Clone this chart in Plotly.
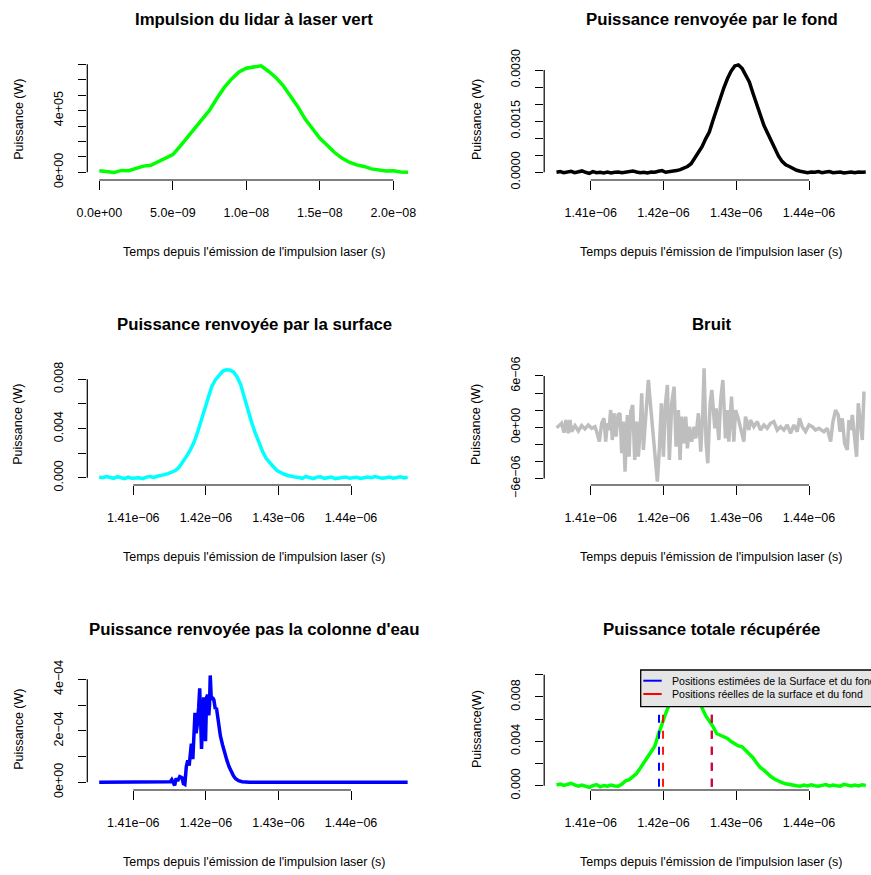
import plotly.graph_objects as go

W, H = 871, 875

# ---------------- données ----------------
# Panneau 1 : impulsion du lidar (temps en ns, puissance en 1e5 W)
impulsion_t_ns = [0.0, 0.5, 1.0, 1.5, 2.0, 2.5, 3.0, 3.5, 4.0, 4.5, 5.0, 5.5, 6.0, 6.5,
                  7.0, 7.5, 8.0, 8.5, 9.0, 9.5, 10.0, 10.5, 11.0, 11.5, 12.0, 12.5, 13.0,
                  13.5, 14.0, 14.5, 15.0, 15.5, 16.0, 16.5, 17.0, 17.5, 18.0, 18.5, 19.0,
                  19.5, 20.0, 20.5, 21.0]
impulsion_p_1e5W = [0.10, 0.05, -0.02, 0.12, 0.10, 0.25, 0.40, 0.45, 0.68, 0.90, 1.15, 1.70,
                    2.28, 2.82, 3.40, 4.03, 4.80, 5.50, 6.05, 6.50, 6.75, 6.85, 6.90, 6.55,
                    6.15, 5.62, 4.98, 4.25, 3.45, 2.78, 2.20, 1.75, 1.28, 0.92, 0.65, 0.48,
                    0.38, 0.22, 0.15, 0.08, 0.10, 0.02, 0.00]

# Grille de temps commune (ns) pour le fond, la surface et le total
temps_ns = [1405.3, 1405.8, 1406.3, 1406.8, 1407.3, 1407.8, 1408.3, 1408.8, 1409.3, 1409.8,
            1410.3, 1410.8, 1411.3, 1411.8, 1412.3, 1412.8, 1413.3, 1413.8, 1414.3, 1414.8,
            1415.3, 1415.8, 1416.3, 1416.8, 1417.3, 1417.8, 1418.3, 1418.8, 1419.3, 1419.8,
            1420.3, 1420.8, 1421.3, 1421.8, 1422.3, 1422.8, 1423.3, 1423.8, 1424.3, 1424.8,
            1425.3, 1425.8, 1426.3, 1426.8, 1427.3, 1427.8, 1428.3, 1428.8, 1429.3, 1429.8,
            1430.3, 1430.8, 1431.3, 1431.8, 1432.3, 1432.8, 1433.3, 1433.8, 1434.3, 1434.8,
            1435.3, 1435.8, 1436.3, 1436.8, 1437.3, 1437.8, 1438.3, 1438.8, 1439.3, 1439.8,
            1440.3, 1440.8, 1441.3, 1441.8, 1442.3, 1442.8, 1443.3, 1443.8, 1444.3, 1444.8,
            1445.3, 1445.8, 1446.3, 1446.8, 1447.3, 1447.8]

# Panneau 2 : puissance renvoyée par le fond (mW)
fond_mW = [0.00, 0.02, -0.01, 0.01, 0.03, -0.01, 0.02, 0.04, 0.00, -0.03,
           0.02, -0.01, 0.00, -0.02, 0.01, -0.02, 0.00, 0.01, -0.01, 0.00,
           0.02, 0.04, 0.01, -0.01, 0.00, -0.02, 0.01, 0.00, 0.03, 0.05,
           0.00, 0.01, 0.03, 0.05,
           0.08, 0.13, 0.17, 0.25, 0.42, 0.58, 0.75, 0.98, 1.18, 1.52,
           1.85, 2.20, 2.48, 2.75, 2.97, 3.12, 3.15, 3.05, 2.85, 2.65,
           2.32, 2.00, 1.66, 1.38, 1.15, 0.92, 0.68, 0.48, 0.32, 0.22,
           0.17, 0.10, 0.06, 0.03,
           0.02, -0.01, 0.01, 0.00, 0.02, -0.01, 0.01, 0.02, -0.01, 0.00,
           0.01, -0.02, 0.00, 0.01, -0.01, 0.01, 0.00, 0.01]

# Panneau 3 : puissance renvoyée par la surface (mW)
surface_mW = [0.05, 0.00, 0.10, 0.05, -0.05, 0.08, 0.00, -0.08, 0.05, -0.05,
              -0.02, 0.00, -0.08, 0.05, 0.10, 0.02, 0.12,
              0.15, 0.25, 0.33, 0.45, 0.58, 0.85, 1.25, 1.71, 2.20, 2.79,
              3.60, 4.55, 5.70, 6.60, 7.40, 7.95, 8.35, 8.65, 8.78, 8.75,
              8.60, 8.20, 7.55, 6.50, 5.45, 4.50, 3.65, 2.85, 2.15, 1.57,
              1.20, 0.89, 0.58, 0.40, 0.28, 0.18, 0.10, 0.05,
              0.02, -0.05, 0.10, 0.00, -0.08, 0.05, 0.08, -0.05, 0.00, 0.05,
              -0.08, -0.03, 0.02, 0.06, -0.05, 0.00, 0.03, -0.06, -0.02, 0.05,
              0.00, 0.10, 0.03, -0.05, 0.00, 0.05, -0.04, 0.02, 0.08, -0.02, 0.03]

# Panneau 6 : puissance totale récupérée (mW)
total_mW = [0.06, 0.15, 0.02, 0.10, 0.22, 0.08, -0.05, 0.05, -0.08, -0.15,
            0.00, 0.10, -0.10, 0.02, -0.05, 0.05, -0.02, -0.05,
            0.15, 0.45, 0.55, 0.80, 1.10, 1.57, 2.05, 2.55, 3.05, 3.55,
            4.60, 5.60, 6.50, 7.30, 8.20, 8.90, 9.50, 9.90, 10.05, 9.90,
            9.40, 8.30, 7.00, 6.30, 5.85, 5.35, 4.70, 4.55, 4.40, 4.25,
            3.98, 3.80, 3.58, 3.50, 3.20, 2.85, 2.52, 2.05, 1.65, 1.40,
            1.05, 0.80, 0.58, 0.40, 0.27, 0.18, 0.10, 0.03,
            0.00, -0.05, 0.05, -0.02, 0.08, 0.00, -0.05, 0.03, 0.10, -0.02,
            0.05, 0.00, -0.04, 0.12, 0.02, -0.03, 0.05, -0.02, 0.08, 0.02]

# Panneau 4 : bruit (temps en ns, puissance en 1e-6 W)
bruit_t_ns = [1405.32, 1406.00, 1406.33, 1406.60, 1406.92, 1407.15, 1407.38, 1407.84, 1408.30,
              1408.76, 1409.21, 1409.67, 1410.13, 1410.59, 1410.82, 1411.19, 1411.51, 1411.83,
              1412.06, 1412.29, 1412.52, 1412.74, 1412.97, 1413.20, 1413.48, 1413.75, 1414.03,
              1414.26, 1414.49, 1414.72, 1415.04, 1415.27, 1415.50, 1415.77, 1416.05, 1416.32,
              1416.55, 1416.78, 1417.01, 1417.24, 1417.60, 1417.93, 1418.16, 1418.48, 1418.71,
              1418.89, 1419.16, 1419.44, 1419.71, 1419.99, 1420.26, 1420.54, 1420.81, 1421.14,
              1421.46, 1421.73, 1422.05, 1422.28, 1422.51, 1422.83, 1423.06, 1423.29, 1423.57,
              1423.89, 1424.21, 1424.44, 1424.80, 1425.12, 1425.40, 1425.58, 1425.86, 1426.09,
              1426.41, 1426.64,
              1427.06, 1427.24, 1427.61, 1427.84, 1428.16, 1428.52, 1428.75, 1428.98, 1429.35,
              1429.67, 1429.90, 1430.27, 1430.72, 1431.05, 1431.27, 1431.73, 1431.96, 1432.42,
              1432.88, 1433.34, 1433.80, 1434.26, 1434.71, 1435.17, 1435.63, 1436.09, 1436.55,
              1437.01, 1437.46, 1437.92, 1438.38, 1438.70, 1439.07, 1439.53, 1439.99, 1440.45,
              1440.90, 1441.36, 1442.05, 1442.51, 1442.97, 1443.29, 1443.65, 1444.02, 1444.25,
              1444.57, 1444.89, 1445.26, 1445.49, 1445.72, 1445.95, 1446.31, 1446.54, 1446.77,
              1447.09, 1447.32, 1447.55, 1447.78]
bruit_uW = [-0.05, 0.47, -0.63, 0.85, -0.70, 0.85, -0.51, 0.19, -0.43,
            0.19, -0.20, 0.27, -0.12, 0.07, -0.51, -1.68, 0.47, 1.05,
            -1.68, 0.47, -0.32, 2.02, -1.49, 1.64, -1.10, 1.44, 1.64,
            -3.04, 0.66, -5.19, 1.44, -3.44, 1.82, 2.61, -3.82, 0.66,
            -3.44, -0.51, 3.98, -2.65, 1.64, 5.53, 3.19, 0.07, -1.49,
            -3.82, -6.36, -2.46, 2.81, -3.44, 2.61, 4.95, -3.82, 2.81,
            4.75, -2.27, 2.02, -3.82, 1.24, -1.88, 1.24, -2.46, 0.07,
            -1.68, 0.07, -1.30, 1.64, -2.85, 1.64, 6.90, -1.87, -4.21,
            2.81, 4.36,
            -0.12, 2.22, -1.49, 3.00, 5.53, -1.29, 2.02, -1.68, 3.58,
            -1.68, 2.02, 1.05, -0.32, -1.68, 1.24, -0.32, 0.85, 0.07,
            0.66, -0.32, 0.27, -0.12, 0.47, 0.66, -0.32, 0.07, -0.32,
            0.27, -0.70, 0.27, -0.51, 1.05, 0.07, -0.51, 0.27, 0.07,
            -0.32, -0.12, -0.51, -0.12, -1.68, 0.66, 2.02, 1.44, -0.51,
            1.05, -1.87, -2.65, 0.85, -0.32, 1.44, -1.10, -3.44, 2.81,
            0.07, -1.49, 3.98, 3.98]

# Panneau 5 : colonne d'eau (temps en ns, puissance en 1e-4 W)
colonne_t_ns = [1405.3, 1410.0, 1414.8, 1415.1, 1415.3, 1415.5, 1415.7, 1415.9, 1416.1, 1416.4,
                1416.7, 1416.9, 1417.1, 1417.3, 1417.5, 1417.7, 1417.8, 1418.0, 1418.2, 1418.35,
                1418.5, 1418.65, 1418.8, 1419.0, 1419.15, 1419.3, 1419.4, 1419.55, 1419.7,
                1419.85, 1419.95, 1420.1, 1420.25, 1420.4, 1420.5, 1420.6, 1420.75, 1420.9,
                1421.1, 1421.3, 1421.45, 1421.6, 1421.8, 1422.0, 1422.3, 1422.6, 1422.9,
                1423.2, 1423.5, 1423.8, 1424.1, 1424.5, 1425.0, 1426.0, 1447.8]
colonne_1e4W = [0.0, 0.0, 0.0, 0.02, 0.10, -0.05, -0.12, 0.15, 0.05, 0.22,
                0.18, -0.05, -0.08, 0.60, 0.85, 0.65, 0.95, 1.50, 0.90, 1.60,
                2.70, 1.90, 2.20, 2.90, 3.65, 2.20, 1.30, 2.40, 3.30,
                1.90, 1.60, 3.30, 3.40, 2.60, 3.00, 4.15, 3.20, 3.30,
                3.20, 2.85, 2.90, 2.60, 2.10, 1.80, 1.45, 1.10, 0.85,
                0.60, 0.40, 0.25, 0.14, 0.06, 0.02, 0.0, 0.0]

# Positions (ns) des surfaces / fonds et hauteur des segments (W)
pos_estimees_ns = [1419.39, 1426.64]
pos_reelles_ns = [1419.94, 1426.64]
haut_segments_W = 0.0064

titres = ["Impulsion du lidar à laser vert", "Puissance renvoyée par le fond",
          "Puissance renvoyée par la surface", "Bruit",
          "Puissance renvoyée pas la colonne d'eau", "Puissance totale récupérée"]
titre_x = "Temps depuis l'émission de l'impulsion laser (s)"
titres_y = ["Puissance (W)"] * 5 + ["Puissance(W)"]
legende = ["Positions estimées de la Surface et du fond",
           "Positions réelles de la surface et du fond"]

M = "\u2212"
x1_ticks = [0, 5e-9, 1e-8, 1.5e-8, 2e-8]
x1_text = ["0.0e+00", "5.0e" + M + "09", "1.0e" + M + "08", "1.5e" + M + "08", "2.0e" + M + "08"]
t_ticks = [1.41e-6, 1.42e-6, 1.43e-6, 1.44e-6]
t_text = ["1.41e" + M + "06", "1.42e" + M + "06", "1.43e" + M + "06", "1.44e" + M + "06"]
y_ticks = [
    [0, 1e5, 2e5, 3e5, 4e5, 5e5, 6e5, 7e5],
    [0, 0.0005, 0.001, 0.0015, 0.002, 0.0025, 0.003],
    [0, 0.002, 0.004, 0.006, 0.008],
    [-6e-6, -4e-6, -2e-6, 0, 2e-6, 4e-6, 6e-6],
    [0, 1e-4, 2e-4, 3e-4, 4e-4],
    [0, 0.002, 0.004, 0.006, 0.008, 0.010],
]
y_text = [
    ["0e+00", "", "", "", "4e+05", "", "", ""],
    ["0.0000", "", "", "0.0015", "", "", "0.0030"],
    ["0.000", "", "0.004", "", "0.008"],
    [M + "6e" + M + "06", "", "", "0e+00", "", "", "6e" + M + "06"],
    ["0e+00", "", "2e" + M + "04", "", "4e" + M + "04"],
    ["0.000", "", "0.004", "", "0.008", ""],
]

# ---------------- mise en page (pixels -> papier) ----------------
def px(x):
    return x / W


def py(y):
    return 1 - y / H


col_left = [87.3, 420.7]
col_right = [544.2, 871.0]
col_centre = [254.0, 711.5]
rows = [(59.0, 180.0), (364.0, 485.0), (669.0, 790.0)]
ylab_x = [18.3, 476.5]

x_ranges = [
    [-0.082e-8, 2.186e-8],
    [1403.61e-9, 1448.52e-9],
    [1403.66e-9, 1449.60e-9],
    [1403.61e-9, 1448.52e-9],
    [1403.66e-9, 1449.60e-9],
    [1403.61e-9, 1448.52e-9],
]
y_ranges = [
    [-0.5e5, 7.343e5],
    [-0.000226, 0.003323],
    [-0.000593, 0.009244],
    [-6.75e-6, 7.40e-6],
    [-0.299e-4, 4.40e-4],
    [-0.000387, 0.01051],
]

FONT = "Liberation Sans, Arial, Helvetica, sans-serif"
tickfont = dict(family=FONT, size=12.5, color="black")

fig = go.Figure()
layout = dict(template="none", width=W, height=H, autosize=False,
              margin=dict(l=0, r=0, t=0, b=0, pad=0, autoexpand=False),
              paper_bgcolor="white", plot_bgcolor="white", showlegend=False)
shapes = []
annotations = []

for i in range(6):
    n = i + 1
    r, c = divmod(i, 2)
    cols = col_left if c == 0 else col_right
    top, bot = rows[r]
    xn = "xaxis" if n == 1 else f"xaxis{n}"
    yn = "yaxis" if n == 1 else f"yaxis{n}"
    xid = "x" if n == 1 else f"x{n}"
    yid = "y" if n == 1 else f"y{n}"
    xtv, xtt = (x1_ticks, x1_text) if n == 1 else (t_ticks, t_text)
    layout[xn] = dict(domain=[px(cols[0]), px(cols[1])], range=x_ranges[i], anchor=yid,
                      tickmode="array", tickvals=xtv, ticktext=xtt, ticks="outside",
                      ticklen=8.5, tickwidth=1.2, tickcolor="black", showline=False,
                      showgrid=False, zeroline=False, tickfont=tickfont, automargin=False,
                      ticklabelstandoff=12, fixedrange=True)
    layout[yn] = dict(domain=[py(bot), py(top)], range=y_ranges[i], anchor=xid,
                      tickmode="array", tickvals=y_ticks[i], ticktext=y_text[i],
                      ticks="outside", ticklen=8.5, tickwidth=1.2, tickcolor="black",
                      showline=False, showgrid=False, zeroline=False, tickfont=tickfont,
                      tickangle=-90, ticklabelstandoff=10, automargin=False, fixedrange=True)
    # lignes d'axe à la R (du premier au dernier repère)
    shapes.append(dict(type="line", xref=xid, yref=f"{yid} domain", x0=xtv[0], x1=xtv[-1],
                       y0=0, y1=0, line=dict(color="black", width=1.2), layer="above"))
    shapes.append(dict(type="line", xref=f"{xid} domain", yref=yid, x0=0, x1=0,
                       y0=y_ticks[i][0], y1=y_ticks[i][-1],
                       line=dict(color="black", width=1.2), layer="above"))
    # titres
    annotations.append(dict(text="<b>" + titres[i] + "</b>", xref="paper", yref="paper",
                            x=px(col_centre[c]), y=py(top - 39.5), xanchor="center",
                            yanchor="middle", showarrow=False,
                            font=dict(family=FONT, size=16.8, color="black")))
    annotations.append(dict(text=titre_x, xref="paper", yref="paper",
                            x=px(col_centre[c]), y=py(bot + 72), xanchor="center",
                            yanchor="middle", showarrow=False,
                            font=dict(family=FONT, size=12.5, color="black")))
    annotations.append(dict(text=titres_y[i], xref="paper", yref="paper",
                            x=px(ylab_x[c]), y=py((top + bot) / 2), xanchor="center",
                            yanchor="middle", showarrow=False, textangle=-90,
                            font=dict(family=FONT, size=12.5, color="black")))

LW = 3.5
fig.add_trace(go.Scatter(x=[t * 1e-9 for t in impulsion_t_ns],
                         y=[p * 1e5 for p in impulsion_p_1e5W], mode="lines",
                         line=dict(color="#00FF00", width=LW), xaxis="x", yaxis="y"))
fig.add_trace(go.Scatter(x=[t * 1e-9 for t in temps_ns], y=[p * 1e-3 for p in fond_mW],
                         mode="lines", line=dict(color="black", width=LW),
                         xaxis="x2", yaxis="y2"))
fig.add_trace(go.Scatter(x=[t * 1e-9 for t in temps_ns], y=[p * 1e-3 for p in surface_mW],
                         mode="lines", line=dict(color="#00FFFF", width=LW),
                         xaxis="x3", yaxis="y3"))
fig.add_trace(go.Scatter(x=[t * 1e-9 for t in bruit_t_ns], y=[p * 1e-6 for p in bruit_uW],
                         mode="lines", line=dict(color="#BEBEBE", width=LW),
                         xaxis="x4", yaxis="y4"))
fig.add_trace(go.Scatter(x=[t * 1e-9 for t in colonne_t_ns],
                         y=[p * 1e-4 for p in colonne_1e4W], mode="lines",
                         line=dict(color="#0000FF", width=LW), xaxis="x5", yaxis="y5"))
fig.add_trace(go.Scatter(x=[t * 1e-9 for t in temps_ns], y=[p * 1e-3 for p in total_mW],
                         mode="lines", line=dict(color="#00FF00", width=LW),
                         xaxis="x6", yaxis="y6"))

ybas = y_ranges[5][0]
for t in pos_estimees_ns:
    fig.add_trace(go.Scatter(x=[t * 1e-9, t * 1e-9], y=[haut_segments_W, ybas], mode="lines",
                             line=dict(color="#0000FF", width=2, dash="8px,8px"),
                             xaxis="x6", yaxis="y6"))
for t in pos_reelles_ns:
    fig.add_trace(go.Scatter(x=[t * 1e-9, t * 1e-9], y=[haut_segments_W, ybas], mode="lines",
                             line=dict(color="#FF0000", width=2, dash="8px,8px"),
                             opacity=0.92, xaxis="x6", yaxis="y6"))

# légende (boîte façon R)
shapes.append(dict(type="rect", xref="paper", yref="paper", x0=px(640.7), x1=px(930),
                   y0=py(706.7), y1=py(670.0), fillcolor="#E5E5E5",
                   line=dict(color="black", width=1.3), layer="above"))
for yy, col in [(680.7, "#0000FF"), (694.0, "#FF0000")]:
    shapes.append(dict(type="line", xref="paper", yref="paper", x0=px(643.3), x1=px(661.7),
                       y0=py(yy), y1=py(yy), line=dict(color=col, width=2), layer="above"))
for yy, txt in [(680.7, legende[0]), (694.0, legende[1])]:
    annotations.append(dict(text=txt, xref="paper", yref="paper", x=px(670.0), y=py(yy),
                            xanchor="left", yanchor="middle", showarrow=False,
                            font=dict(family=FONT, size=10.6, color="black")))

layout["shapes"] = shapes
layout["annotations"] = annotations
fig.update_layout(**layout)
fig.write_html("out.html", config={"displayModeBar": False},
               post_script="document.body.style.margin='0';"
                           "document.documentElement.style.overflow='hidden';")
